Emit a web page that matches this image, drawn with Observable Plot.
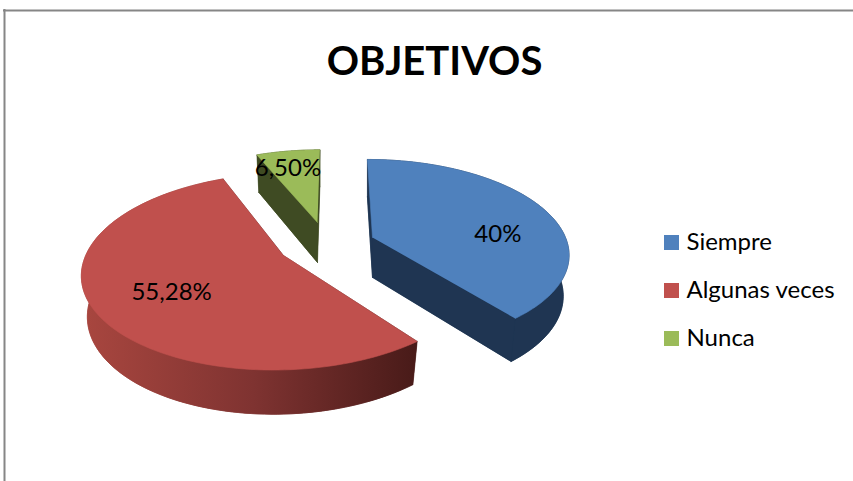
<!DOCTYPE html>
<html>
<head>
<meta charset="utf-8">
<style>html,body{margin:0;padding:0;background:#fff}svg{display:block}</style>
<script src="https://cdn.jsdelivr.net/npm/d3@7"></script>
<script src="https://cdn.jsdelivr.net/npm/@observablehq/plot@0.6"></script>
</head>
<body>
<div id="chart"></div>
<script>
const title = "OBJETIVOS";
const categories = ["Siempre", "Algunas veces", "Nunca"];
const values = [40, 55.28, 6.5];
const valueLabels = ["40%", "55,28%", "6,50%"];
const topColors = ["#4F81BD", "#C0504D", "#9BBB59"];
const sideColors = ["#1F3552", "url(#redSide)", "#3F4B23"];

// layout of the 3D projection (chart units = pixels)
const apexX = [372, 283, 317];
const apexY = [237, 255, 222];
const radiusScale = [1, 1.025, 0.95];
const labelAngle = [87, 234.7, 345.3];
const labelRadius = [0.655, 0.648, 0.71];
const A = 193, B = 99, K = 0.16, VPX = 335, VPY = 290, DEPTH = 40, BOTTOM_SCALE = 0.97;
const font = "Lato, Carlito, sans-serif";

function project(i, deg, r, bottom) {
  const t = deg * Math.PI / 180;
  const u = Math.sin(t) * r, v = -Math.cos(t) * r;
  const w = 1 - K * v;
  const s = bottom ? BOTTOM_SCALE : 1;
  return {
    x: VPX + (apexX[i] - VPX + s * A * u) / w,
    y: VPY + (apexY[i] - VPY + (bottom ? DEPTH : 0) + s * B * v) / w
  };
}

const pie = d3.pie().sort(null).value(d => d).startAngle(0).endAngle(2 * Math.PI)(values);
const marks = [];

const poly = (pts, fill) => Plot.line(pts, {x: "x", y: "y", fill, stroke: fill, strokeWidth: 0.6});

const gradient = () => {
  const defs = d3.create("svg:defs");
  const g = defs.append("linearGradient").attr("id", "redSide")
    .attr("gradientUnits", "userSpaceOnUse")
    .attr("x1", 85).attr("x2", 420).attr("y1", 0).attr("y2", 0);
  g.append("stop").attr("offset", "0").attr("stop-color", "#A8463F");
  g.append("stop").attr("offset", "0.5").attr("stop-color", "#7F3331");
  g.append("stop").attr("offset", "1").attr("stop-color", "#471A18");
  return defs.node();
};
marks.push(gradient);

marks.push(Plot.ruleY([10], {x1: 3, x2: 853, stroke: "#868686", strokeWidth: 2}));
marks.push(Plot.ruleX([4], {y1: 9, y2: 481, stroke: "#868686", strokeWidth: 2}));

[2, 1, 0].forEach(i => {
  const a0 = pie[i].startAngle * 180 / Math.PI;
  const a1 = pie[i].endAngle * 180 / Math.PI;
  const r = radiusScale[i];
  const angles = d3.range(0, 121).map(k => a0 + (a1 - a0) * k / 120);
  const topRim = angles.map(a => project(i, a, r, false));
  const botRim = angles.map(a => project(i, a, r, true));
  const topApex = project(i, 0, 0, false);
  const botApex = project(i, 0, 0, true);
  const side = sideColors[i];
  marks.push(poly([botApex, ...botRim], side));
  marks.push(poly([...topRim, ...botRim.slice().reverse()], side));
  marks.push(poly([topApex, topRim[0], botRim[0], botApex], side));
  marks.push(poly([topApex, topRim[120], botRim[120], botApex], side));
  marks.push(poly([topApex, ...topRim], topColors[i]));
});

marks.push(Plot.text(valueLabels, {
  x: (d, i) => project(i, labelAngle[i], labelRadius[i], false).x,
  y: (d, i) => project(i, labelAngle[i], labelRadius[i], false).y,
  text: d => d, fontSize: 24, fontFamily: font, fill: "#000", textAnchor: "middle", lineAnchor: "middle"
}));

marks.push(Plot.text([title], {
  x: 434, y: 62, text: d => d, fontSize: 40, fontWeight: 700, fontFamily: font, fill: "#000",
  textAnchor: "middle", lineAnchor: "middle"
}));

const legendTop = 235, legendStep = 48, swatch = 15;
marks.push(Plot.rect(categories, {
  x1: 664, x2: 664 + swatch,
  y1: (d, i) => legendTop + i * legendStep,
  y2: (d, i) => legendTop + swatch + i * legendStep,
  fill: d => d
}));
marks.push(Plot.text(categories, {
  x: 686, y: (d, i) => legendTop + 7 + i * legendStep,
  text: d => d, fontSize: 24, fontFamily: font, fill: "#000", textAnchor: "start", lineAnchor: "middle"
}));

const chart = Plot.plot({
  width: 853, height: 481, margin: 0,
  style: {background: "#fff"},
  x: {domain: [0, 853], range: [0, 853], axis: null},
  y: {domain: [0, 481], range: [0, 481], axis: null},
  color: {domain: categories, range: topColors},
  marks
});
document.getElementById("chart").appendChild(chart);
</script>
</body>
</html>
